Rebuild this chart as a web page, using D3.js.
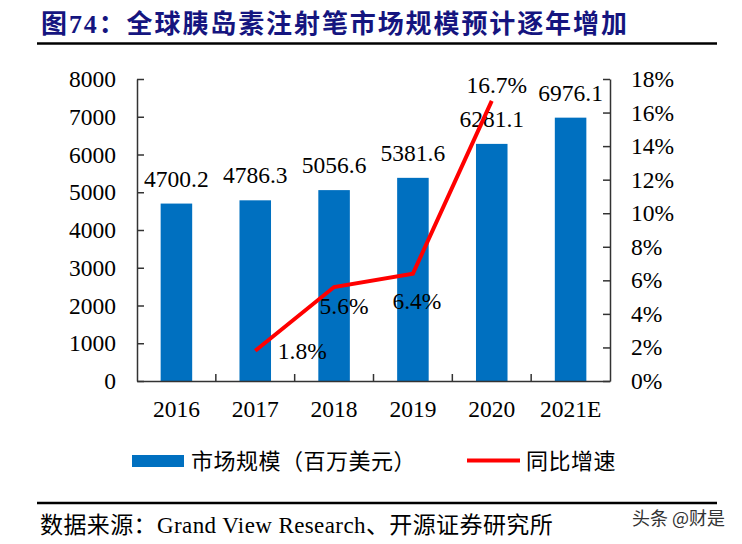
<!DOCTYPE html>
<html><head><meta charset="utf-8">
<script src="https://cdn.jsdelivr.net/npm/d3@7"></script>
<style>
html,body{margin:0;padding:0;background:#fff;}
svg{display:block;}
</style></head>
<body>
<svg id="c" width="742" height="544"></svg>
<script>
const categories = ["2016","2017","2018","2019","2020","2021E"];
const marketSize = [4700.2, 4786.3, 5056.6, 5381.6, 6281.1, 6976.1];
const growthYears = ["2017","2018","2019","2020"];
const growthRate = [1.8, 5.6, 6.4, 16.7];
const leftTicks = [0,1000,2000,3000,4000,5000,6000,7000,8000];
const rightTicks = [0,2,4,6,8,10,12,14,16,18];
// label placement offsets (dx, dy) for growth labels, styling only
const growthLabelOffsets = [[47,8],[10,27],[4,35],[5,-8]];

(function(){
const svg = d3.select("#c");
const serif = "'Liberation Serif','Times New Roman','Noto Sans CJK SC',serif";
const cjk = "'Liberation Serif','Noto Sans CJK SC',sans-serif";

// Title
svg.append("text").attr("x",41).attr("y",33)
  .attr("font-family",cjk).attr("font-weight","bold").attr("font-size",26)
  .attr("letter-spacing",1.9)
  .attr("fill","#15157f").text("图74：全球胰岛素注射笔市场规模预计逐年增加");
svg.append("line").attr("x1",37).attr("x2",717).attr("y1",43.5).attr("y2",43.5)
  .attr("stroke","#000").attr("stroke-width",2.5);

const pL=137,pR=610,pT=79,pB=381;
const x = d3.scaleBand().domain(categories).range([pL,pR]).paddingInner(0.6).paddingOuter(0.3);
const yL = d3.scaleLinear().domain([0,8000]).range([pB,pT]);
const yR = d3.scaleLinear().domain([0,18]).range([pB,pT]);

// bars
svg.append("g").selectAll("rect").data(categories).join("rect")
  .attr("x",d=>x(d)).attr("width",x.bandwidth())
  .attr("y",(d,i)=>yL(marketSize[i])).attr("height",(d,i)=>pB-yL(marketSize[i]))
  .attr("fill","#0070C0");

// axes
const axStyle = g=>{
  g.selectAll("path,line").attr("stroke","#333").attr("stroke-width",1.5);
  g.selectAll("text").attr("font-family",serif).attr("font-size",23.5).attr("fill","#000");
};
svg.append("g").attr("transform",`translate(${pL},0)`)
  .call(d3.axisLeft(yL).tickValues(leftTicks).tickSize(-7).tickSizeOuter(0).tickPadding(21).tickFormat(d3.format("d")))
  .call(axStyle);
svg.append("g").attr("transform",`translate(${pR},0)`)
  .call(d3.axisRight(yR).tickValues(rightTicks).tickSize(-7).tickSizeOuter(0).tickPadding(21).tickFormat(d=>d+"%"))
  .call(axStyle);
svg.append("g").attr("transform",`translate(0,${pB})`)
  .call(d3.axisBottom(x).tickSize(0).tickSizeOuter(0).tickPadding(19))
  .call(axStyle);
// category boundary ticks (inward)
const halfGap = x.step()*x.paddingInner()/2;
svg.append("g").selectAll("line").data(categories.slice(1)).join("line")
  .attr("x1",d=>x(d)-halfGap).attr("x2",d=>x(d)-halfGap)
  .attr("y1",pB).attr("y2",pB-7)
  .attr("stroke","#333").attr("stroke-width",1.5);

// bar labels
svg.append("g").selectAll("text").data(categories).join("text")
  .attr("x",d=>x(d)+x.bandwidth()/2).attr("y",(d,i)=>yL(marketSize[i])-17)
  .attr("text-anchor","middle").attr("font-family",serif).attr("font-size",23.5).attr("fill","#000")
  .text((d,i)=>marketSize[i].toFixed(1));

// growth line
const cx = d=>x(d)+x.bandwidth()/2;
const line = d3.line().x((d,i)=>cx(growthYears[i])).y(d=>yR(d));
svg.append("path").datum(growthRate).attr("d",line)
  .attr("fill","none").attr("stroke","#FF0000").attr("stroke-width",4).attr("stroke-linejoin","miter");

svg.append("g").selectAll("text").data(growthRate).join("text")
  .attr("x",(d,i)=>cx(growthYears[i])+growthLabelOffsets[i][0])
  .attr("y",(d,i)=>yR(d)+growthLabelOffsets[i][1])
  .attr("text-anchor","middle").attr("font-family",serif).attr("font-size",23.5).attr("fill","#000")
  .text(d=>d.toFixed(1)+"%");

// legend
svg.append("rect").attr("x",132).attr("y",455).attr("width",52).attr("height",12).attr("fill","#0070C0");
svg.append("text").attr("x",191).attr("y",469).attr("font-family",cjk).attr("font-size",22).attr("letter-spacing",0.5).attr("fill","#000")
  .text("市场规模（百万美元）");
svg.append("line").attr("x1",467).attr("x2",520).attr("y1",460.5).attr("y2",460.5)
  .attr("stroke","#FF0000").attr("stroke-width",4);
svg.append("text").attr("x",526).attr("y",469).attr("font-family",cjk).attr("font-size",22).attr("letter-spacing",0.5).attr("fill","#000")
  .text("同比增速");

// bottom rule & source
svg.append("line").attr("x1",37).attr("x2",717).attr("y1",503).attr("y2",503)
  .attr("stroke","#000").attr("stroke-width",2.5);
svg.append("text").attr("x",40).attr("y",533).attr("font-family",cjk).attr("font-size",23).attr("letter-spacing",0.4).attr("fill","#000")
  .text("数据来源：Grand View Research、开源证券研究所");
svg.append("text").attr("x",632).attr("y",525).attr("font-family","'Noto Sans CJK SC',sans-serif").attr("font-size",18).attr("fill","#333")
  .text("头条 @财是");
})();
</script>
</body></html>
